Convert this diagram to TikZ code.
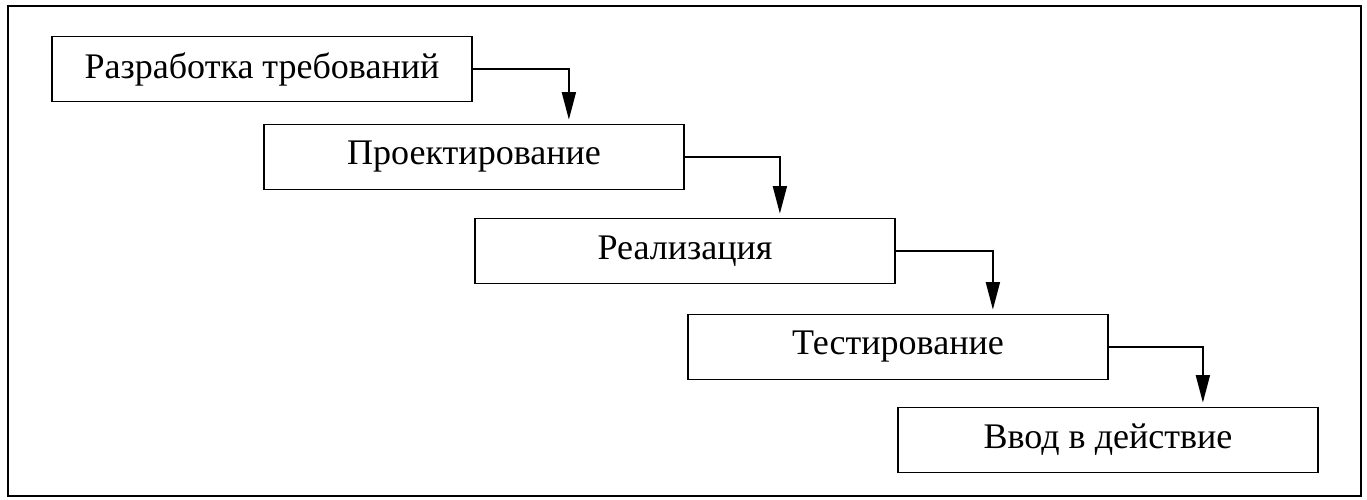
\documentclass[tikz,border=0pt]{standalone}
\usepackage{fontspec}
\setmainfont{Liberation Serif}
\usetikzlibrary{arrows.meta}

\begin{document}
\begin{tikzpicture}[stage/.style={draw,line width=1pt,minimum width=8.4cm,minimum height=1.3cm,font=\fontsize{20.5}{24}\selectfont},
  flow/.style={line width=1pt,-{Triangle[length=5.5mm,width=2.8mm]},shorten >=0.08cm}]
\useasboundingbox (0,0) rectangle (27.34,10);
\draw[line width=1pt] (0.16,0.08) rectangle (27.22,9.88);
\node[stage] (razr) at (5.24,8.62) {Разработка требований};
\node[stage] (proekt) at (9.48,6.86) {Проектирование};
\node[stage] (real) at (13.70,4.98) {Реализация};
\node[stage] (test) at (17.96,3.06) {Тестирование};
\node[stage] (vvod) at (22.16,1.20) {Ввод в действие};
\foreach \a/\b in {razr/proekt,proekt/real,real/test,test/vvod}
  \draw[flow] (\a.east) -| ([xshift=-2.32cm]\b.north east);
\end{tikzpicture}
\end{document}
